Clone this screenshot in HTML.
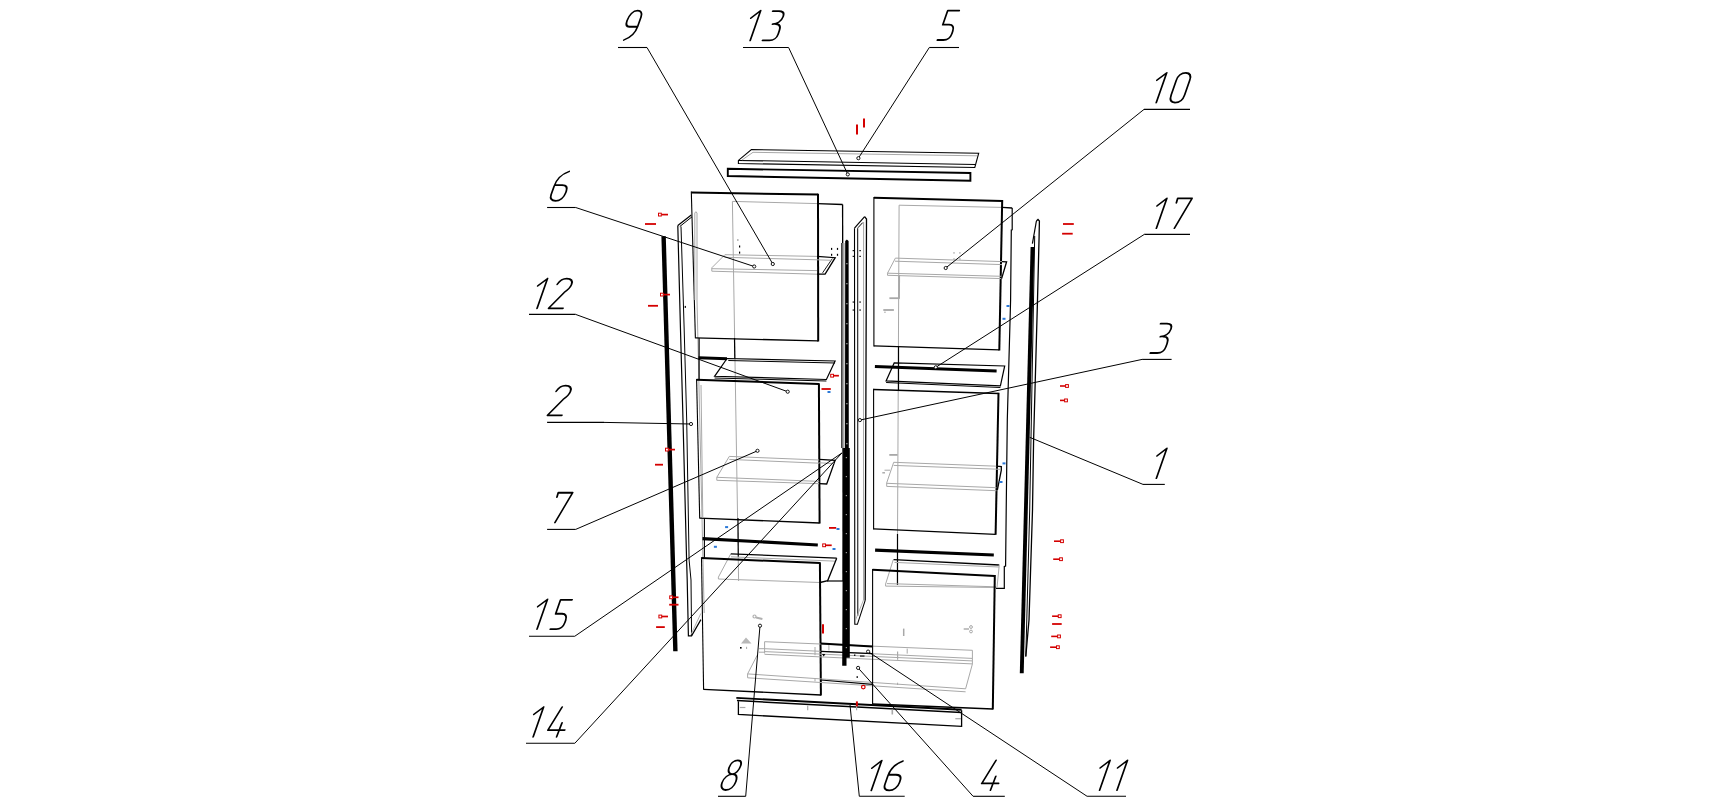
<!DOCTYPE html>
<html><head><meta charset="utf-8"><title>Exploded view</title>
<style>
html,body{margin:0;padding:0;background:#fff;}
body{width:1715px;height:805px;overflow:hidden;font-family:"Liberation Sans",sans-serif;}
svg{display:block;}
</style></head>
<body>
<svg width="1715" height="805" viewBox="0 0 1715 805" stroke-linecap="butt">
<rect width="1715" height="805" fill="#fff"/>
<polygon points="751.4,149.6 978.7,153.2 974.8,167.5 738.4,163.5 738.4,160.4" fill="none" stroke="#000" stroke-width="1.1"/>
<line x1="738.4" y1="160.4" x2="975.5" y2="164.6" stroke="#000" stroke-width="1.05"/>
<line x1="753" y1="152.3" x2="977" y2="155.8" stroke="#a8a8a8" stroke-width="1.0"/>
<line x1="753" y1="152.3" x2="742" y2="160" stroke="#a8a8a8" stroke-width="1.0"/>
<polygon points="727.8,168.8 970.4,173 970.4,180.8 727.8,176" fill="none" stroke="#000" stroke-width="1.9"/>
<line x1="857" y1="124.4" x2="857" y2="134.4" stroke="#d40000" stroke-width="2"/>
<line x1="864" y1="118.4" x2="864" y2="127.4" stroke="#d40000" stroke-width="2"/>
<line x1="732.4" y1="201.4" x2="817" y2="203.6" stroke="#a8a8a8" stroke-width="1.0"/>
<line x1="732.4" y1="201.4" x2="738.6" y2="581" stroke="#a8a8a8" stroke-width="1.0"/>
<line x1="817.4" y1="203.6" x2="842.6" y2="204.5" stroke="#000" stroke-width="1.4"/>
<line x1="842.6" y1="204.5" x2="843.2" y2="581" stroke="#000" stroke-width="1.3"/>
<line x1="827" y1="581" x2="843.2" y2="581" stroke="#000" stroke-width="1.2"/>
<line x1="697" y1="300" x2="704.2" y2="613" stroke="#a8a8a8" stroke-width="1.0"/>
<line x1="691.3" y1="192.4" x2="818" y2="194.6" stroke="#000" stroke-width="2.0"/>
<line x1="818" y1="193.8" x2="818.2" y2="341.4" stroke="#000" stroke-width="2.0"/>
<line x1="695.4" y1="337.8" x2="818.2" y2="340.9" stroke="#000" stroke-width="1.3"/>
<line x1="691.3" y1="191.6" x2="695.4" y2="338.3" stroke="#000" stroke-width="1.1"/>
<polyline points="817,256.4 724.9,254.7 711.8,267.8 711.8,271.2 817,274.2" fill="none" stroke="#a8a8a8" stroke-width="1.0"/>
<line x1="724.5" y1="257.3" x2="817" y2="259.8" stroke="#a8a8a8" stroke-width="1.0"/>
<line x1="711.8" y1="268.7" x2="817" y2="270.6" stroke="#a8a8a8" stroke-width="1.0"/>
<polyline points="817,256.4 835.2,257.7 825.1,274.2 817,274.2" fill="none" stroke="#000" stroke-width="1.3"/>
<line x1="832.3" y1="258.6" x2="822.6" y2="272.8" stroke="#000" stroke-width="0.9"/>
<line x1="817" y1="259.8" x2="832" y2="260.3" stroke="#a8a8a8" stroke-width="1.0"/>
<line x1="699.1" y1="338" x2="699.1" y2="379.7" stroke="#000" stroke-width="1.2"/>
<line x1="734.5" y1="338" x2="734.8" y2="358.5" stroke="#000" stroke-width="1.2"/>
<line x1="698.5" y1="357.8" x2="727" y2="358.8" stroke="#000" stroke-width="3.0"/>
<polygon points="727,358.5 835.1,361 826.4,379.5 714.6,376.3" fill="none" stroke="#000" stroke-width="1.2"/>
<line x1="728.3" y1="360.5" x2="835" y2="363" stroke="#000" stroke-width="1.0"/>
<line x1="714.6" y1="378" x2="826.4" y2="381" stroke="#000" stroke-width="1.0"/>
<line x1="696.6" y1="379.7" x2="818.9" y2="384" stroke="#000" stroke-width="2.0"/>
<line x1="818.9" y1="383.2" x2="819.6" y2="523.5" stroke="#000" stroke-width="2.0"/>
<line x1="699.7" y1="518.1" x2="819.6" y2="523" stroke="#000" stroke-width="1.3"/>
<line x1="696.6" y1="378.9" x2="699.7" y2="518.6" stroke="#000" stroke-width="1.1"/>
<line x1="701" y1="385" x2="702.8" y2="518" stroke="#a8a8a8" stroke-width="1.0"/>
<polyline points="819.2,460 729.3,456.4 716.8,477.3 716.8,480.3 819.2,483.7" fill="none" stroke="#a8a8a8" stroke-width="1.0"/>
<line x1="729.3" y1="459.4" x2="819.2" y2="463.2" stroke="#a8a8a8" stroke-width="1.0"/>
<line x1="716.8" y1="477.3" x2="819.2" y2="481.4" stroke="#a8a8a8" stroke-width="1.0"/>
<polyline points="819.2,459.4 835.1,460.4 826.7,484 819.2,483.7" fill="none" stroke="#000" stroke-width="1.3"/>
<line x1="819.2" y1="462.8" x2="833.5" y2="463.5" stroke="#a8a8a8" stroke-width="1.0"/>
<line x1="704.4" y1="518" x2="704.4" y2="557.7" stroke="#000" stroke-width="1.1"/>
<line x1="738" y1="518" x2="738.3" y2="557" stroke="#000" stroke-width="1.1"/>
<line x1="702.5" y1="538.6" x2="817.8" y2="545" stroke="#000" stroke-width="3.2"/>
<polyline points="730.8,553.8 718.4,577.1 718.4,579 820,582.5" fill="none" stroke="#a8a8a8" stroke-width="1.0"/>
<line x1="731" y1="556.8" x2="836" y2="561.2" stroke="#a8a8a8" stroke-width="1.0"/>
<line x1="730.8" y1="553.8" x2="836.7" y2="558.2" stroke="#000" stroke-width="1.3"/>
<polyline points="836.7,558.2 827.7,580.6 820,582.5" fill="none" stroke="#000" stroke-width="1.3"/>
<line x1="701.5" y1="558" x2="819.9" y2="563" stroke="#000" stroke-width="2.0"/>
<line x1="819.9" y1="562.2" x2="820.9" y2="695.5" stroke="#000" stroke-width="2.0"/>
<line x1="703.6" y1="689.3" x2="820.9" y2="695" stroke="#000" stroke-width="1.3"/>
<line x1="701.5" y1="557.2" x2="703.6" y2="689.8" stroke="#000" stroke-width="1.1"/>
<polyline points="764.6,653.5 764.6,641.7 972.4,650.3 972.4,664 965.6,688.8 747.6,673.9 757.2,655.2" fill="none" stroke="#a8a8a8" stroke-width="1.0"/>
<line x1="764.6" y1="648.7" x2="972" y2="658.4" stroke="#a8a8a8" stroke-width="1.0"/>
<line x1="764.6" y1="651.6" x2="972" y2="660.9" stroke="#a8a8a8" stroke-width="1.0"/>
<line x1="764.6" y1="654.3" x2="972" y2="663.9" stroke="#a8a8a8" stroke-width="1.0"/>
<line x1="897.6" y1="651.4" x2="897.6" y2="659.7" stroke="#a8a8a8" stroke-width="1.2"/>
<line x1="907.2" y1="648.6" x2="907.2" y2="653.6" stroke="#a8a8a8" stroke-width="1.0"/>
<line x1="897.6" y1="682.7" x2="897.6" y2="685" stroke="#a8a8a8" stroke-width="1.0"/>
<line x1="758.9" y1="648.7" x2="764.6" y2="648.7" stroke="#a8a8a8" stroke-width="1.0"/>
<line x1="758.9" y1="652.2" x2="764.6" y2="652.2" stroke="#a8a8a8" stroke-width="1.0"/>
<line x1="747.6" y1="673.9" x2="747.6" y2="677.8" stroke="#a8a8a8" stroke-width="1.0"/>
<line x1="747.6" y1="677.8" x2="965.6" y2="691.8" stroke="#a8a8a8" stroke-width="1.0"/>
<line x1="815" y1="647" x2="815" y2="655.2" stroke="#a8a8a8" stroke-width="1.0"/>
<line x1="815" y1="678.7" x2="815" y2="681.3" stroke="#a8a8a8" stroke-width="1.0"/>
<line x1="828.9" y1="645" x2="828.9" y2="650.4" stroke="#a8a8a8" stroke-width="1.0"/>
<line x1="903.7" y1="628.6" x2="903.7" y2="636" stroke="#a8a8a8" stroke-width="1.5"/>
<polygon points="741,643.5 746,637.4 751.5,643.5" fill="#b8b8b8"/>
<line x1="963.7" y1="629" x2="969" y2="629" stroke="#a8a8a8" stroke-width="1.4"/>
<circle cx="971" cy="627" r="1.4" fill="#fff" stroke="#a8a8a8" stroke-width="1.0"/>
<circle cx="971" cy="631.5" r="1.4" fill="#fff" stroke="#a8a8a8" stroke-width="1.0"/>
<polygon points="822,654 825.4,654 823.7,656.5" fill="#000"/>
<rect x="740" y="647" width="1.6" height="1.6" fill="#000"/>
<rect x="854" y="654.5" width="1.4" height="1.4" fill="#000"/>
<rect x="860" y="655.5" width="4.5" height="1.1" fill="#000"/>
<rect x="856.5" y="676.3" width="1.5" height="1.5" fill="#000"/>
<line x1="820.7" y1="643.6" x2="872.4" y2="646.6" stroke="#000" stroke-width="2.0"/>
<line x1="820.7" y1="651.4" x2="872.4" y2="653.6" stroke="#000" stroke-width="1.2"/>
<line x1="820.7" y1="680" x2="872.4" y2="684.3" stroke="#000" stroke-width="1.2"/>
<line x1="736.3" y1="697.9" x2="961.6" y2="709.8" stroke="#000" stroke-width="1.9"/>
<line x1="737" y1="700.6" x2="961.6" y2="712.6" stroke="#000" stroke-width="1.5"/>
<polyline points="738.4,701.2 738.4,714.5 961.6,726.4 961.6,710.3" fill="none" stroke="#000" stroke-width="1.3"/>
<line x1="739.8" y1="707.5" x2="745.4" y2="707.5" stroke="#a8a8a8" stroke-width="1.2"/>
<line x1="807.7" y1="705.4" x2="807.7" y2="710.3" stroke="#a8a8a8" stroke-width="1.2"/>
<line x1="892.3" y1="709.6" x2="892.3" y2="714.5" stroke="#a8a8a8" stroke-width="1.6"/>
<line x1="955.3" y1="718.7" x2="961" y2="718.7" stroke="#a8a8a8" stroke-width="1.2"/>
<line x1="856.6" y1="706" x2="856.6" y2="710.3" stroke="#a8a8a8" stroke-width="1.2"/>
<line x1="677.8" y1="225.4" x2="691.3" y2="215.1" stroke="#000" stroke-width="1.2"/>
<line x1="679.8" y1="226.5" x2="692" y2="216.8" stroke="#000" stroke-width="1.0"/>
<polyline points="677.8,225.4 680.5,330 683,420 686.6,560 687.2,580 688.4,635.8 691.6,635.8 700.9,619.6" fill="none" stroke="#000" stroke-width="1.2"/>
<polyline points="681,226.5 684.2,330 686.7,420 689.1,560 691,580 691.6,635.8" fill="none" stroke="#000" stroke-width="1.0"/>
<line x1="691" y1="634.5" x2="700.9" y2="613.4" stroke="#a8a8a8" stroke-width="0.9"/>
<polygon points="661.4,236.3 665.8,236.3 677.6,651.3 673.2,651.3" fill="#000"/>
<polygon points="845.2,241 846.9,239.5 848.6,241 848.8,448 849.8,448 849.8,657.8 846.5,657.8 846.5,665.7 842.2,665.7 843.1,448 845,448" fill="#000"/>
<rect x="842.2" y="243" width="2.4" height="205" fill="#a8a8a8"/>
<line x1="841.7" y1="243" x2="841.7" y2="448" stroke="#000" stroke-width="0.9"/>
<rect x="846.4" y="263" width="1" height="1.3" fill="#c8c8c8"/>
<rect x="846.4" y="283" width="1" height="1.3" fill="#c8c8c8"/>
<rect x="846.4" y="303" width="1" height="1.3" fill="#c8c8c8"/>
<rect x="846.4" y="323" width="1" height="1.3" fill="#c8c8c8"/>
<rect x="846.4" y="343" width="1" height="1.3" fill="#c8c8c8"/>
<rect x="846.4" y="363" width="1" height="1.3" fill="#c8c8c8"/>
<rect x="846.4" y="383" width="1" height="1.3" fill="#c8c8c8"/>
<rect x="846.4" y="403" width="1" height="1.3" fill="#c8c8c8"/>
<rect x="846.4" y="423" width="1" height="1.3" fill="#c8c8c8"/>
<rect x="846.4" y="443" width="1" height="1.3" fill="#c8c8c8"/>
<rect x="845.8" y="457" width="1" height="1.2" fill="#bbb"/>
<rect x="845.8" y="476" width="1" height="1.2" fill="#bbb"/>
<rect x="845.8" y="495" width="1" height="1.2" fill="#bbb"/>
<rect x="845.8" y="514" width="1" height="1.2" fill="#bbb"/>
<rect x="845.8" y="533" width="1" height="1.2" fill="#bbb"/>
<rect x="845.8" y="552" width="1" height="1.2" fill="#bbb"/>
<rect x="845.8" y="571" width="1" height="1.2" fill="#bbb"/>
<rect x="845.8" y="590" width="1" height="1.2" fill="#bbb"/>
<rect x="845.8" y="609" width="1" height="1.2" fill="#bbb"/>
<rect x="845.8" y="628" width="1" height="1.2" fill="#bbb"/>
<rect x="845.8" y="647" width="1" height="1.2" fill="#bbb"/>
<line x1="854.5" y1="228.2" x2="864.6" y2="216.6" stroke="#000" stroke-width="1.2"/>
<line x1="857.9" y1="227.8" x2="862.7" y2="222.6" stroke="#000" stroke-width="1.0"/>
<polyline points="854.5,228.2 854.8,624.3 857.4,624.3 865.2,600.4" fill="none" stroke="#000" stroke-width="1.1"/>
<line x1="857.7" y1="228.2" x2="857.8" y2="615.7" stroke="#000" stroke-width="1.0"/>
<line x1="863.6" y1="222" x2="863.5" y2="600" stroke="#a8a8a8" stroke-width="1.0"/>
<line x1="863.5" y1="600" x2="855.5" y2="620" stroke="#a8a8a8" stroke-width="0.9"/>
<polyline points="864.6,216.6 866.5,219 865.2,600.4" fill="none" stroke="#000" stroke-width="1.3"/>
<line x1="899.1" y1="205.2" x2="1002" y2="207.4" stroke="#a8a8a8" stroke-width="1.0"/>
<line x1="899.1" y1="205.2" x2="897.3" y2="585" stroke="#a8a8a8" stroke-width="1.0"/>
<line x1="1002.2" y1="207.4" x2="1012.2" y2="208" stroke="#000" stroke-width="1.4"/>
<polyline points="1012.2,208 1012.2,229.8 1011.3,230 1010.6,300 1007.3,420 1006.2,510 1005.6,566 1004.3,566.5 1004.3,588.3 996,588.3" fill="none" stroke="#000" stroke-width="1.2"/>
<line x1="873.9" y1="197.7" x2="1002.2" y2="200.9" stroke="#000" stroke-width="2.0"/>
<line x1="1002.2" y1="200.1" x2="999.3" y2="350.4" stroke="#000" stroke-width="2.0"/>
<line x1="873.9" y1="345.9" x2="999.3" y2="349.9" stroke="#000" stroke-width="1.3"/>
<line x1="873.9" y1="196.9" x2="873.9" y2="346.4" stroke="#000" stroke-width="1.1"/>
<polyline points="1002,261.6 895.4,258.1 887.5,273.2 887.5,275.3 1001.6,278.6" fill="none" stroke="#a8a8a8" stroke-width="1.0"/>
<line x1="895" y1="261.2" x2="1002" y2="264.6" stroke="#a8a8a8" stroke-width="1.0"/>
<line x1="887.5" y1="273.2" x2="1001.6" y2="276.3" stroke="#a8a8a8" stroke-width="1.0"/>
<polyline points="1002,261.6 1006.6,261.8 1001.6,278.6" fill="none" stroke="#000" stroke-width="1.3"/>
<line x1="898.5" y1="346" x2="898.5" y2="390" stroke="#000" stroke-width="1.2"/>
<line x1="874.9" y1="366.6" x2="996.6" y2="371" stroke="#000" stroke-width="3.0"/>
<polygon points="894.2,362.9 1004.7,366 1000.4,385.9 886.1,380.9" fill="none" stroke="#000" stroke-width="1.2"/>
<line x1="886.1" y1="382.5" x2="1000.4" y2="387.5" stroke="#000" stroke-width="1.0"/>
<line x1="873.6" y1="389.6" x2="998.5" y2="393.6" stroke="#000" stroke-width="1.5"/>
<line x1="998.5" y1="392.8" x2="995.6" y2="534.8" stroke="#000" stroke-width="2.0"/>
<line x1="873.6" y1="528.9" x2="995.6" y2="534.3" stroke="#000" stroke-width="1.3"/>
<line x1="873.6" y1="388.8" x2="873.6" y2="529.4" stroke="#000" stroke-width="1.1"/>
<polyline points="996.5,466.2 893.7,462.3 886.7,482.9 886.7,486.4 996.5,490.7" fill="none" stroke="#a8a8a8" stroke-width="1.0"/>
<line x1="893.7" y1="465.4" x2="1000" y2="469.3" stroke="#a8a8a8" stroke-width="1.0"/>
<line x1="886.7" y1="483.3" x2="996.5" y2="487.7" stroke="#a8a8a8" stroke-width="1.0"/>
<polyline points="996.5,466.2 1001.3,466.5 1001.3,470.2 997.4,489.9" fill="none" stroke="#000" stroke-width="1.3"/>
<line x1="889.3" y1="454.9" x2="897.6" y2="454.9" stroke="#a8a8a8" stroke-width="1.8"/>
<line x1="884.5" y1="470.2" x2="890" y2="470.2" stroke="#a8a8a8" stroke-width="1.0"/>
<line x1="882.3" y1="472.8" x2="885" y2="472.8" stroke="#a8a8a8" stroke-width="1.4"/>
<line x1="897.5" y1="534" x2="897.5" y2="585" stroke="#000" stroke-width="1.2"/>
<line x1="875.1" y1="550.2" x2="993.8" y2="555" stroke="#000" stroke-width="3.2"/>
<line x1="893.5" y1="559.7" x2="999.1" y2="565" stroke="#000" stroke-width="1.3"/>
<polyline points="999.3,564.5 997,587.5 885.6,586.1 885.6,584 893.2,559.9" fill="none" stroke="#a8a8a8" stroke-width="1.0"/>
<line x1="894.5" y1="562.4" x2="999" y2="567" stroke="#a8a8a8" stroke-width="1.0"/>
<line x1="887" y1="583.6" x2="996" y2="586.8" stroke="#a8a8a8" stroke-width="1.0"/>
<line x1="872.6" y1="569.7" x2="994.8" y2="575.9" stroke="#000" stroke-width="2.0"/>
<line x1="994.8" y1="575.1" x2="992.8" y2="709.5" stroke="#000" stroke-width="2.0"/>
<line x1="872.6" y1="704" x2="992.8" y2="709" stroke="#000" stroke-width="1.3"/>
<line x1="872.6" y1="568.9" x2="872.6" y2="704.5" stroke="#000" stroke-width="1.1"/>
<polyline points="1036.4,221 1038,219.5 1039.4,221 1039.1,236.8 1037.5,300 1033.6,440 1032.5,510 1029,620 1025.8,656.5" fill="none" stroke="#000" stroke-width="1.3"/>
<polyline points="1036.4,221 1032.4,243.6" fill="none" stroke="#000" stroke-width="1.2"/>
<polygon points="1030.6,246.9 1034.4,246.9 1023.7,673.3 1019.8,673.3" fill="#000"/>
<line x1="1034.7" y1="236" x2="1029.7" y2="510" stroke="#000" stroke-width="1.0"/>
<line x1="1029.7" y1="510" x2="1025.8" y2="656.5" stroke="#000" stroke-width="1.0"/>
<rect x="739" y="245.5" width="1.2" height="2" fill="#000"/>
<rect x="739" y="251.6" width="1.2" height="2" fill="#000"/>
<rect x="831" y="247.9" width="1.2" height="2" fill="#000"/>
<rect x="836.9" y="247.9" width="1.2" height="2" fill="#000"/>
<rect x="831" y="253.8" width="1.2" height="2" fill="#000"/>
<rect x="836.9" y="253.8" width="1.2" height="2" fill="#000"/>
<rect x="684.7" y="305.9" width="1.2" height="2" fill="#000"/>
<rect x="852.6" y="250.1" width="1.6" height="1.1" fill="#000"/>
<rect x="852.6" y="255.8" width="1.6" height="1.1" fill="#000"/>
<rect x="859.3" y="250.1" width="1.6" height="1.1" fill="#000"/>
<rect x="859.3" y="255.8" width="1.6" height="1.1" fill="#000"/>
<rect x="852.6" y="301.5" width="1.6" height="1.1" fill="#000"/>
<rect x="852.6" y="309.5" width="1.6" height="1.1" fill="#000"/>
<rect x="859.3" y="301.5" width="1.6" height="1.1" fill="#000"/>
<rect x="859.3" y="309.5" width="1.6" height="1.1" fill="#000"/>
<rect x="737" y="239.2" width="1.6" height="1.6" fill="#a8a8a8"/>
<rect x="953.3" y="252.2" width="1.4" height="1.4" fill="#a8a8a8"/>
<rect x="959.2" y="252.2" width="1.4" height="1.4" fill="#a8a8a8"/>
<rect x="953.3" y="258.3" width="1.4" height="1.4" fill="#a8a8a8"/>
<rect x="959.2" y="258.3" width="1.4" height="1.4" fill="#a8a8a8"/>
<line x1="899.2" y1="275" x2="899" y2="298.8" stroke="#a8a8a8" stroke-width="1.8"/>
<line x1="889.4" y1="298.2" x2="899.5" y2="298.2" stroke="#a8a8a8" stroke-width="1.8"/>
<line x1="883.3" y1="310" x2="893.9" y2="310" stroke="#a8a8a8" stroke-width="1.8"/>
<rect x="884.3" y="311.6" width="1.3" height="1.3" fill="#a8a8a8"/>
<circle cx="754.5" cy="616.5" r="1.5" fill="#fff" stroke="#b0b0b0" stroke-width="1.2"/>
<line x1="756" y1="617.5" x2="762.4" y2="619" stroke="#b0b0b0" stroke-width="1.8"/>
<line x1="746.6" y1="646.8" x2="746.6" y2="649" stroke="#a8a8a8" stroke-width="1.0"/>
<polyline points="694.8,300 694.8,213 695.9,211.7 697,213 697,300" fill="none" stroke="#a8a8a8" stroke-width="1.0"/>
<line x1="661.2" y1="214.6" x2="668" y2="214.6" stroke="#d40000" stroke-width="1.7"/>
<rect x="658.5" y="213.2" width="2.8" height="2.8" fill="#fff" stroke="#d40000" stroke-width="1"/>
<line x1="645" y1="224" x2="656" y2="224" stroke="#d40000" stroke-width="1.8"/>
<line x1="663.2" y1="294.6" x2="670" y2="294.6" stroke="#d40000" stroke-width="1.7"/>
<rect x="660.5" y="293.2" width="2.8" height="2.8" fill="#fff" stroke="#d40000" stroke-width="1"/>
<line x1="648" y1="305.8" x2="658" y2="305.8" stroke="#d40000" stroke-width="1.8"/>
<line x1="668.2" y1="449.6" x2="675" y2="449.6" stroke="#d40000" stroke-width="1.7"/>
<rect x="665.5" y="448.2" width="2.8" height="2.8" fill="#fff" stroke="#d40000" stroke-width="1"/>
<line x1="655" y1="464.7" x2="663" y2="464.7" stroke="#d40000" stroke-width="1.8"/>
<line x1="672.4" y1="597.3" x2="678.5" y2="597.3" stroke="#d40000" stroke-width="1.7"/>
<rect x="669.7" y="595.9" width="2.8" height="2.8" fill="#fff" stroke="#d40000" stroke-width="1"/>
<line x1="669.2" y1="604.7" x2="678.5" y2="604.7" stroke="#d40000" stroke-width="1.8"/>
<line x1="661.6" y1="616.5" x2="668" y2="616.5" stroke="#d40000" stroke-width="1.7"/>
<rect x="658.9" y="615.1" width="2.8" height="2.8" fill="#fff" stroke="#d40000" stroke-width="1"/>
<line x1="656.1" y1="627.1" x2="664.8" y2="627.1" stroke="#d40000" stroke-width="1.8"/>
<line x1="1063" y1="224" x2="1073.8" y2="224" stroke="#d40000" stroke-width="1.8"/>
<line x1="1062.1" y1="233.7" x2="1072.7" y2="233.7" stroke="#d40000" stroke-width="1.8"/>
<line x1="1060" y1="386" x2="1065.8" y2="386" stroke="#d40000" stroke-width="1.6"/>
<rect x="1065.6" y="384.6" width="2.8" height="2.8" fill="#fff" stroke="#d40000" stroke-width="1"/>
<line x1="1060" y1="400.4" x2="1064.8" y2="400.4" stroke="#d40000" stroke-width="1.6"/>
<rect x="1064.6" y="399" width="2.8" height="2.8" fill="#fff" stroke="#d40000" stroke-width="1"/>
<line x1="1054" y1="541.2" x2="1060.8" y2="541.2" stroke="#d40000" stroke-width="1.6"/>
<rect x="1060.6" y="539.8" width="2.8" height="2.8" fill="#fff" stroke="#d40000" stroke-width="1"/>
<line x1="1053.2" y1="559.2" x2="1059.8" y2="559.2" stroke="#d40000" stroke-width="1.6"/>
<rect x="1059.6" y="557.8" width="2.8" height="2.8" fill="#fff" stroke="#d40000" stroke-width="1"/>
<line x1="1052.1" y1="616.2" x2="1058.5" y2="616.2" stroke="#d40000" stroke-width="1.6"/>
<rect x="1058.3" y="614.8" width="2.8" height="2.8" fill="#fff" stroke="#d40000" stroke-width="1"/>
<line x1="1052.1" y1="624" x2="1061.7" y2="624" stroke="#d40000" stroke-width="1.8"/>
<line x1="1051.2" y1="636.4" x2="1057.8" y2="636.4" stroke="#d40000" stroke-width="1.6"/>
<rect x="1057.6" y="635" width="2.8" height="2.8" fill="#fff" stroke="#d40000" stroke-width="1"/>
<line x1="1050.1" y1="647.2" x2="1056.7" y2="647.2" stroke="#d40000" stroke-width="1.6"/>
<rect x="1056.5" y="645.8" width="2.8" height="2.8" fill="#fff" stroke="#d40000" stroke-width="1"/>
<line x1="821.5" y1="389" x2="830.8" y2="389" stroke="#d40000" stroke-width="1.8"/>
<line x1="833.4" y1="375.7" x2="838.9" y2="375.7" stroke="#d40000" stroke-width="1.7"/>
<rect x="830.7" y="374.3" width="2.8" height="2.8" fill="#fff" stroke="#d40000" stroke-width="1"/>
<line x1="829" y1="527.9" x2="836.2" y2="527.9" stroke="#d40000" stroke-width="1.8"/>
<line x1="825.4" y1="545.3" x2="831.7" y2="545.3" stroke="#d40000" stroke-width="1.7"/>
<rect x="822.7" y="543.9" width="2.8" height="2.8" fill="#fff" stroke="#d40000" stroke-width="1"/>
<line x1="823" y1="624.3" x2="823" y2="633.6" stroke="#d40000" stroke-width="2.0"/>
<line x1="856.9" y1="701.4" x2="856.9" y2="706.4" stroke="#d40000" stroke-width="2.0"/>
<circle cx="863.3" cy="687.1" r="1.8" fill="#fff" stroke="#d40000" stroke-width="1.2"/>
<rect x="827.5" y="391" width="3" height="2" fill="#2a78d8"/>
<rect x="999.5" y="481" width="3" height="2" fill="#2a78d8"/>
<rect x="1002.5" y="462.4" width="3" height="2" fill="#2a78d8"/>
<rect x="836.5" y="528" width="3" height="2" fill="#2a78d8"/>
<rect x="832.5" y="548" width="3" height="2" fill="#2a78d8"/>
<rect x="725.1" y="526.1" width="3" height="2" fill="#2a78d8"/>
<rect x="713.9" y="545.8" width="3" height="2" fill="#2a78d8"/>
<rect x="1006.5" y="305" width="3" height="2" fill="#2a78d8"/>
<rect x="1002.5" y="317.8" width="3" height="2" fill="#2a78d8"/>
<path transform="translate(620,40) skewX(-19.3) scale(0.96)" d="M4,0 C9,-2 13.5,-6.5 13.5,-14 L13.5,-24 C13.5,-28 11,-30.5 7.5,-30.5 C3,-30.5 0.3,-26.5 0.3,-20 C0.3,-16 2,-13.8 5,-13.8 L13.5,-13.8" fill="none" stroke="#000" stroke-width="1.85" stroke-linecap="round" stroke-linejoin="round"/>
<line x1="618" y1="47.5" x2="647" y2="47.5" stroke="#000" stroke-width="1.1"/>
<polyline points="647,47.5 772.8,264" fill="none" stroke="#000" stroke-width="1.0"/>
<circle cx="772.8" cy="264" r="1.6" fill="#fff" stroke="#000" stroke-width="0.9"/>
<path transform="translate(750.2,40.4) skewX(-19.3) scale(0.96)" d="M-7.5,-23.3 L0,-31 L0,0" fill="none" stroke="#000" stroke-width="1.85" stroke-linecap="round" stroke-linejoin="round"/>
<path transform="translate(762.5,40.4) skewX(-19.3) scale(0.96)" d="M0,-30.5 L6.5,-30.5 C10.5,-30.5 12.8,-28.5 12.8,-25 C12.8,-20 9,-17 4.5,-17 M8,-17 C12,-17 14,-14 14,-10 L14,-6.5 C14,-2.5 11.5,0 7.5,0 L0,0" fill="none" stroke="#000" stroke-width="1.85" stroke-linecap="round" stroke-linejoin="round"/>
<line x1="743" y1="47.5" x2="788.6" y2="47.5" stroke="#000" stroke-width="1.1"/>
<polyline points="788.6,47.5 847.8,174.4" fill="none" stroke="#000" stroke-width="1.0"/>
<circle cx="847.8" cy="174.4" r="1.6" fill="#fff" stroke="#000" stroke-width="0.9"/>
<path transform="translate(937.4,40) skewX(-19.3) scale(0.96)" d="M12,-30.5 L0,-30.5 L0,-16 L6.5,-16 C10.5,-16 12.8,-13 12.8,-9 L12.8,-6.5 C12.8,-2.5 10.5,0 6.5,0 L0,0" fill="none" stroke="#000" stroke-width="1.85" stroke-linecap="round" stroke-linejoin="round"/>
<line x1="929.3" y1="47.5" x2="959" y2="47.5" stroke="#000" stroke-width="1.1"/>
<polyline points="929.3,47.5 858.4,158.2" fill="none" stroke="#000" stroke-width="1.0"/>
<circle cx="858.4" cy="158.2" r="1.6" fill="#fff" stroke="#000" stroke-width="0.9"/>
<path transform="translate(1156.3,102.6) skewX(-19.3) scale(0.96)" d="M-7.5,-23.3 L0,-31 L0,0" fill="none" stroke="#000" stroke-width="1.85" stroke-linecap="round" stroke-linejoin="round"/>
<path transform="translate(1168,102.6) skewX(-19.3) scale(0.96)" d="M0.5,-23 L0.5,-8 C0.5,-2.5 3,0 7.5,0 C12,0 14.5,-2.5 14.5,-8 L14.5,-23 C14.5,-28.5 12,-31 7.5,-31 C3,-31 0.5,-28.5 0.5,-23 Z" fill="none" stroke="#000" stroke-width="1.85" stroke-linecap="round" stroke-linejoin="round"/>
<line x1="1144" y1="109.4" x2="1190" y2="109.4" stroke="#000" stroke-width="1.1"/>
<polyline points="1144,109.4 945.7,268" fill="none" stroke="#000" stroke-width="1.0"/>
<circle cx="945.7" cy="268" r="1.6" fill="#fff" stroke="#000" stroke-width="0.9"/>
<path transform="translate(548.5,200.8) skewX(-19.3) scale(0.96)" d="M10.8,-30.5 C4.5,-28 0.5,-23 0.5,-15 L0.5,-6.5 C0.5,-2.3 3.2,0 7.5,0 C12,0 15,-3.5 15,-8 L15,-10 C15,-14 12.5,-16.3 8.5,-16.3 L0.6,-16.3" fill="none" stroke="#000" stroke-width="1.85" stroke-linecap="round" stroke-linejoin="round"/>
<line x1="547.1" y1="207.5" x2="575.7" y2="207.5" stroke="#000" stroke-width="1.1"/>
<polyline points="575.7,207.5 754.2,266.5" fill="none" stroke="#000" stroke-width="1.0"/>
<circle cx="754.2" cy="266.5" r="1.6" fill="#fff" stroke="#000" stroke-width="0.9"/>
<path transform="translate(1156.4,228.2) skewX(-19.3) scale(0.96)" d="M-7.5,-23.3 L0,-31 L0,0" fill="none" stroke="#000" stroke-width="1.85" stroke-linecap="round" stroke-linejoin="round"/>
<path transform="translate(1167.2,228.2) skewX(-19.3) scale(0.96)" d="M0.3,-26.5 L0,-31 L15,-31 L7.5,0" fill="none" stroke="#000" stroke-width="1.85" stroke-linecap="round" stroke-linejoin="round"/>
<line x1="1144.3" y1="234.4" x2="1190" y2="234.4" stroke="#000" stroke-width="1.1"/>
<polyline points="1144.3,234.4 935.8,367.3" fill="none" stroke="#000" stroke-width="1.0"/>
<circle cx="935.8" cy="367.3" r="1.6" fill="#fff" stroke="#000" stroke-width="0.9"/>
<path transform="translate(537.1,308.3) skewX(-19.3) scale(0.96)" d="M-7.5,-23.3 L0,-31 L0,0" fill="none" stroke="#000" stroke-width="1.85" stroke-linecap="round" stroke-linejoin="round"/>
<path transform="translate(548.6,308.3) skewX(-19.3) scale(0.96)" d="M0.3,-25 C1.5,-29 4.5,-31 7.8,-31 C12.5,-31 15.2,-28.5 15.2,-24.8 C15.2,-21.5 13,-19 10.5,-16.5 L0,0 L15,0" fill="none" stroke="#000" stroke-width="1.85" stroke-linecap="round" stroke-linejoin="round"/>
<line x1="529" y1="314.4" x2="575.6" y2="314.4" stroke="#000" stroke-width="1.1"/>
<polyline points="575.6,314.4 787.7,391.7" fill="none" stroke="#000" stroke-width="1.0"/>
<circle cx="787.7" cy="391.7" r="1.6" fill="#fff" stroke="#000" stroke-width="0.9"/>
<path transform="translate(1150.3,353) skewX(-19.3) scale(0.96)" d="M0,-30.5 L6.5,-30.5 C10.5,-30.5 12.8,-28.5 12.8,-25 C12.8,-20 9,-17 4.5,-17 M8,-17 C12,-17 14,-14 14,-10 L14,-6.5 C14,-2.5 11.5,0 7.5,0 L0,0" fill="none" stroke="#000" stroke-width="1.85" stroke-linecap="round" stroke-linejoin="round"/>
<line x1="1142.1" y1="359.4" x2="1171.6" y2="359.4" stroke="#000" stroke-width="1.1"/>
<polyline points="1142.1,359.4 859.9,420.1" fill="none" stroke="#000" stroke-width="1.0"/>
<circle cx="859.9" cy="420.1" r="1.6" fill="#fff" stroke="#000" stroke-width="0.9"/>
<path transform="translate(547.5,415.3) skewX(-19.3) scale(0.96)" d="M0.3,-25 C1.5,-29 4.5,-31 7.8,-31 C12.5,-31 15.2,-28.5 15.2,-24.8 C15.2,-21.5 13,-19 10.5,-16.5 L0,0 L15,0" fill="none" stroke="#000" stroke-width="1.85" stroke-linecap="round" stroke-linejoin="round"/>
<line x1="547.1" y1="422.4" x2="604" y2="422.4" stroke="#000" stroke-width="1.1"/>
<polyline points="604,422.4 691,424" fill="none" stroke="#000" stroke-width="1.0"/>
<circle cx="691" cy="424" r="1.6" fill="#fff" stroke="#000" stroke-width="0.9"/>
<path transform="translate(1156.4,478.2) skewX(-19.3) scale(0.96)" d="M-7.5,-23.3 L0,-31 L0,0" fill="none" stroke="#000" stroke-width="1.85" stroke-linecap="round" stroke-linejoin="round"/>
<line x1="1143" y1="484.4" x2="1164.8" y2="484.4" stroke="#000" stroke-width="1.1"/>
<polyline points="1143,484.4 1029.7,437.3" fill="none" stroke="#000" stroke-width="1.0"/>
<path transform="translate(547.8,522.5) skewX(-19.3) scale(0.96)" d="M0.3,-26.5 L0,-31 L15,-31 L7.5,0" fill="none" stroke="#000" stroke-width="1.85" stroke-linecap="round" stroke-linejoin="round"/>
<line x1="547.1" y1="529.4" x2="575.7" y2="529.4" stroke="#000" stroke-width="1.1"/>
<polyline points="575.7,529.4 757.5,450.8" fill="none" stroke="#000" stroke-width="1.0"/>
<circle cx="757.5" cy="450.8" r="1.6" fill="#fff" stroke="#000" stroke-width="0.9"/>
<path transform="translate(537.1,629.1) skewX(-19.3) scale(0.96)" d="M-7.5,-23.3 L0,-31 L0,0" fill="none" stroke="#000" stroke-width="1.85" stroke-linecap="round" stroke-linejoin="round"/>
<path transform="translate(550.3,629.1) skewX(-19.3) scale(0.96)" d="M12,-30.5 L0,-30.5 L0,-16 L6.5,-16 C10.5,-16 12.8,-13 12.8,-9 L12.8,-6.5 C12.8,-2.5 10.5,0 6.5,0 L0,0" fill="none" stroke="#000" stroke-width="1.85" stroke-linecap="round" stroke-linejoin="round"/>
<line x1="529" y1="636.3" x2="574.7" y2="636.3" stroke="#000" stroke-width="1.1"/>
<polyline points="574.7,636.3 842,452.9" fill="none" stroke="#000" stroke-width="1.0"/>
<path transform="translate(533.2,736.8) skewX(-19.3) scale(0.96)" d="M-7.5,-23.3 L0,-31 L0,0" fill="none" stroke="#000" stroke-width="1.85" stroke-linecap="round" stroke-linejoin="round"/>
<path transform="translate(545.6,736.8) skewX(-19.3) scale(0.96)" d="M6.4,-31 L0,-7 L17.5,-7 M12,-14.5 L11.5,0" fill="none" stroke="#000" stroke-width="1.85" stroke-linecap="round" stroke-linejoin="round"/>
<line x1="526" y1="743.3" x2="574.8" y2="743.3" stroke="#000" stroke-width="1.1"/>
<polyline points="574.8,743.3 842,452.9" fill="none" stroke="#000" stroke-width="1.0"/>
<path transform="translate(719.5,790) skewX(-19.3) scale(0.96)" d="M7.6,-16.5 C4,-16.5 1.8,-19.5 1.8,-23.5 C1.8,-28 4.5,-30.8 8,-30.8 C11.2,-30.8 13.2,-28.5 13.2,-25 C13.2,-20.5 10.8,-16.5 7.6,-16.5 C3.5,-16.5 0,-13 0,-7.5 C0,-3 2.8,0 6.5,0 C11,0 14,-3.5 14,-8.5 C14,-13.5 11.5,-16.5 7.6,-16.5 Z" fill="none" stroke="#000" stroke-width="1.85" stroke-linecap="round" stroke-linejoin="round"/>
<line x1="718" y1="796.3" x2="745.7" y2="796.3" stroke="#000" stroke-width="1.1"/>
<polyline points="745.7,796.3 760,625.7" fill="none" stroke="#000" stroke-width="1.0"/>
<circle cx="760" cy="625.7" r="1.6" fill="#fff" stroke="#000" stroke-width="0.9"/>
<path transform="translate(871.3,790.4) skewX(-19.3) scale(0.96)" d="M-7.5,-23.3 L0,-31 L0,0" fill="none" stroke="#000" stroke-width="1.85" stroke-linecap="round" stroke-linejoin="round"/>
<path transform="translate(882.3,790.4) skewX(-19.3) scale(0.96)" d="M10.8,-30.5 C4.5,-28 0.5,-23 0.5,-15 L0.5,-6.5 C0.5,-2.3 3.2,0 7.5,0 C12,0 15,-3.5 15,-8 L15,-10 C15,-14 12.5,-16.3 8.5,-16.3 L0.6,-16.3" fill="none" stroke="#000" stroke-width="1.85" stroke-linecap="round" stroke-linejoin="round"/>
<line x1="859.3" y1="796.3" x2="904.7" y2="796.3" stroke="#000" stroke-width="1.1"/>
<polyline points="859.3,796.3 850,705" fill="none" stroke="#000" stroke-width="1.0"/>
<path transform="translate(979.4,790.2) skewX(-19.3) scale(0.96)" d="M6.4,-31 L0,-7 L17.5,-7 M12,-14.5 L11.5,0" fill="none" stroke="#000" stroke-width="1.85" stroke-linecap="round" stroke-linejoin="round"/>
<line x1="973.1" y1="796.3" x2="1004.8" y2="796.3" stroke="#000" stroke-width="1.1"/>
<polyline points="973.1,796.3 858.1,667.9" fill="none" stroke="#000" stroke-width="1.0"/>
<circle cx="858.1" cy="667.9" r="1.6" fill="#fff" stroke="#000" stroke-width="0.9"/>
<path transform="translate(1099.6,790.2) skewX(-19.3) scale(0.96)" d="M-7.5,-23.3 L0,-31 L0,0" fill="none" stroke="#000" stroke-width="1.85" stroke-linecap="round" stroke-linejoin="round"/>
<path transform="translate(1117,790.2) skewX(-19.3) scale(0.96)" d="M-7.5,-23.3 L0,-31 L0,0" fill="none" stroke="#000" stroke-width="1.85" stroke-linecap="round" stroke-linejoin="round"/>
<line x1="1087.1" y1="796.3" x2="1126" y2="796.3" stroke="#000" stroke-width="1.1"/>
<polyline points="1087.1,796.3 868.1,651.6" fill="none" stroke="#000" stroke-width="1.0"/>
<circle cx="868.1" cy="651.6" r="1.6" fill="#fff" stroke="#000" stroke-width="0.9"/>
</svg>
</body></html>
